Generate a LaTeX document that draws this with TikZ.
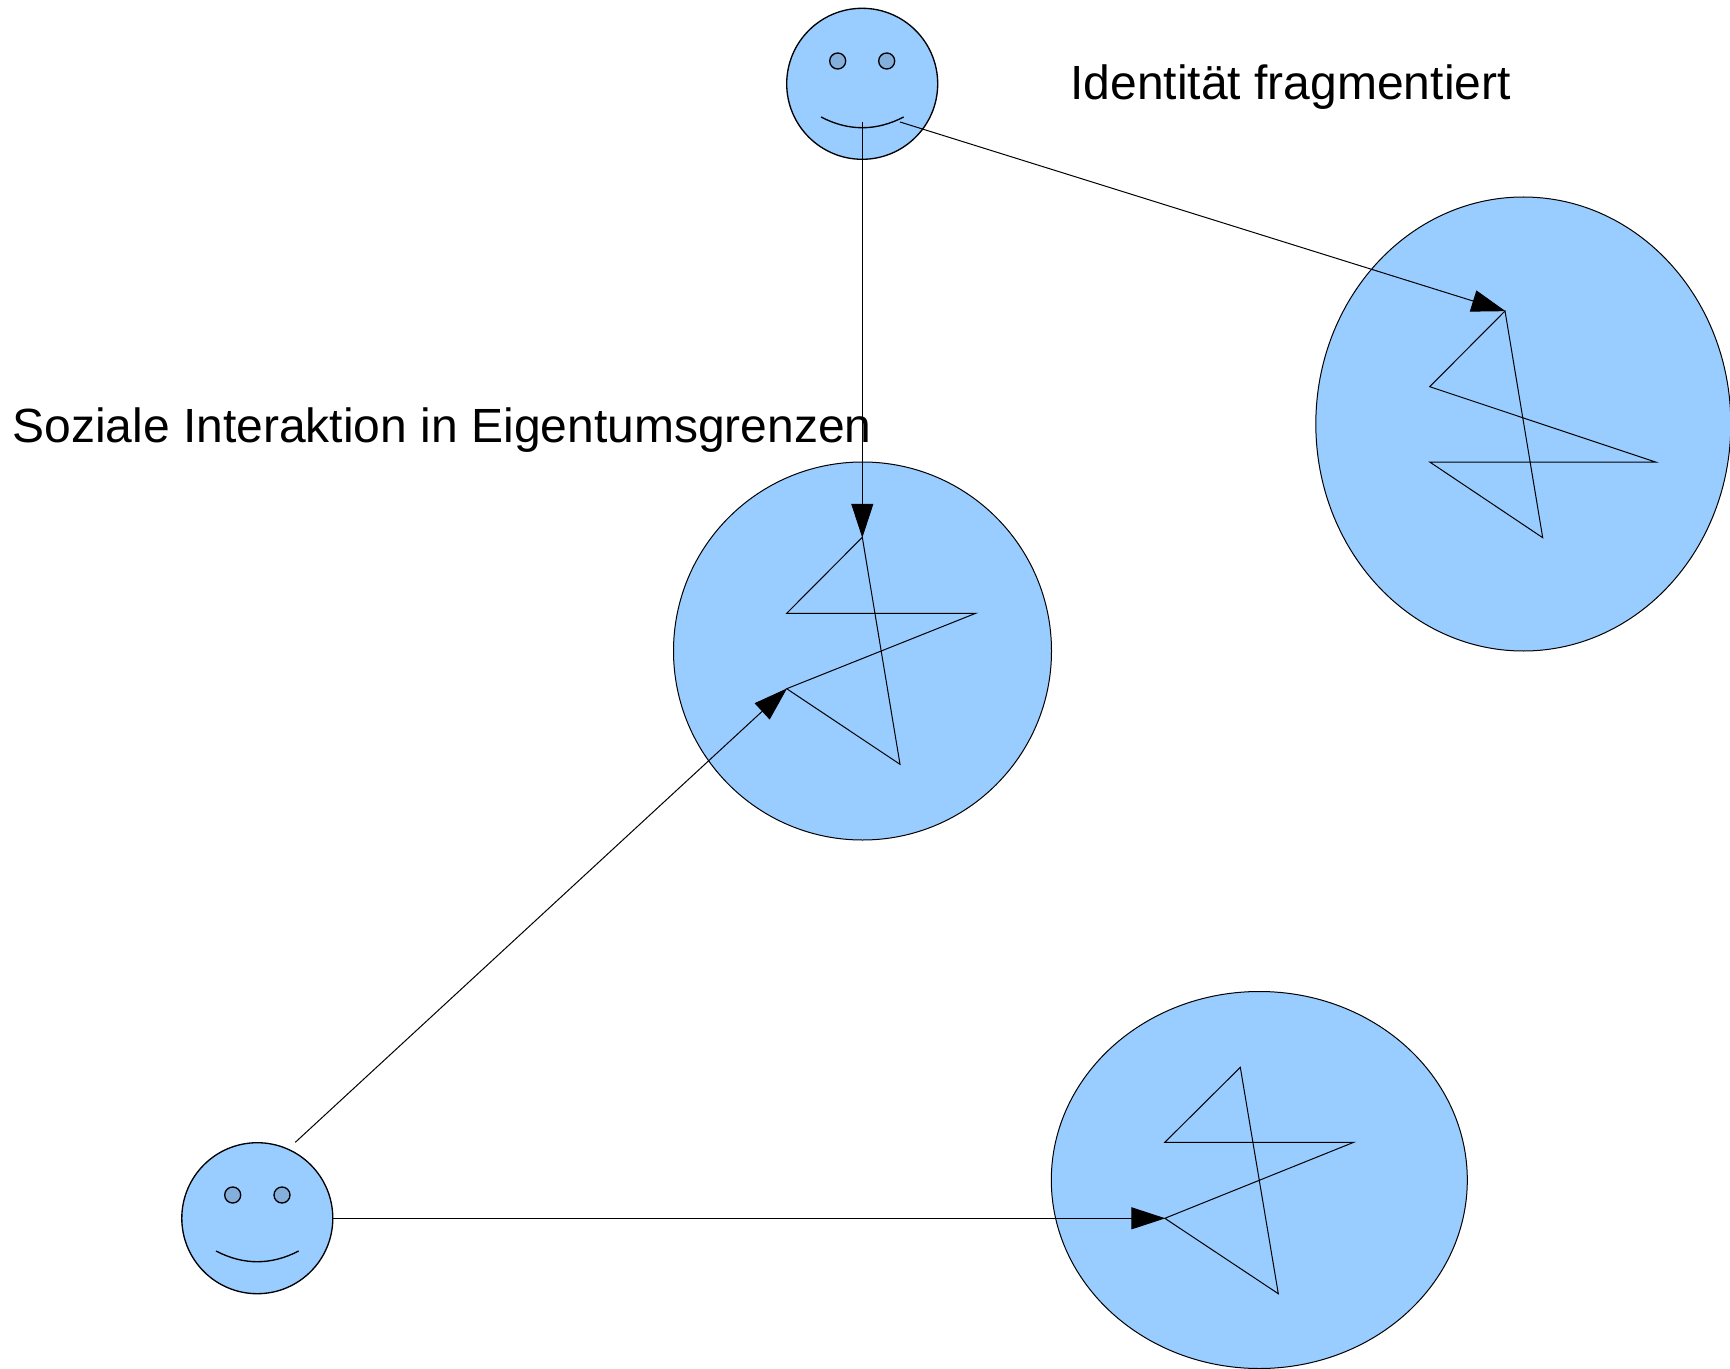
\documentclass[tikz,border=0pt]{standalone}
\usepackage{fontspec}
\setmainfont{Liberation Sans}
\usetikzlibrary{arrows.meta,shapes.geometric}

\definecolor{blobblue}{RGB}{153,204,255}
\definecolor{eyeblue}{RGB}{133,175,219}

\tikzset{every picture/.style={line width=0.75pt}}
\tikzset{
    blob/.style={ellipse,draw,fill=blobblue,inner sep=0pt,outer sep=0pt},
    head/.style={blob,line width=1pt,minimum width=113.25pt,minimum height=113.25pt},
    eye/.style={circle,draw,line width=1pt,fill=eyeblue,inner sep=0pt,outer sep=0pt,minimum size=12pt},
    mouth/.style={line width=1pt},
    caption/.style={anchor=base west,inner sep=0pt,font=\fontsize{36pt}{40pt}\selectfont},
    link/.style={-{Triangle[length=25.5pt,width=16.5pt]},shorten >=-0.4pt},
    bolt/.style={line join=miter}
}

\begin{document}
\begin{tikzpicture}[x=0.75pt,y=0.75pt,yscale=-1]
    \useasboundingbox (0,0) rectangle (1730,1369);

    %Shape: Circle and Ellipses
    \node [blob,minimum width=283.5pt,minimum height=283.5pt] (middleBlob) at (862.5,651) {};
    \node [blob,minimum width=311.25pt,minimum height=340.5pt] (rightBlob) at (1523.3,424) {};
    \node [blob,minimum width=312pt,minimum height=282.75pt] (bottomBlob) at (1259.3,1180) {};

    %Shape: Smiley top
    \node [head] (topHead) at (862.2,83.8) {};
    \node [eye] (topEyeL) at (837.7,61) {};
    \node [eye] (topEyeR) at (886.7,61) {};
    \draw [mouth] (821,117) .. controls (848.5,131.3) and (876,131.3) .. (903.7,117);

    %Shape: Smiley bottom
    \node [head] (lowHead) at (257.3,1218.2) {};
    \node [eye] (lowEyeL) at (232.7,1195) {};
    \node [eye] (lowEyeR) at (282,1195) {};
    \draw [mouth] (216,1251) .. controls (243.5,1265.3) and (271,1265.3) .. (298.7,1251);

    %Points of the bolts
    \coordinate (midA) at (862.3,537.3);
    \coordinate (midB) at (786.7,613.3);
    \coordinate (midC) at (975.7,613.3);
    \coordinate (midD) at (786.7,688.7);
    \coordinate (midE) at (900,764.3);
    \coordinate (rightA) at (1505,311);
    \coordinate (rightB) at (1429.7,386.7);
    \coordinate (rightC) at (1655.5,462);
    \coordinate (rightD) at (1429.7,462);
    \coordinate (rightE) at (1542.7,537.7);
    \coordinate (lowA) at (1240.3,1067.3);
    \coordinate (lowB) at (1164.8,1142.3);
    \coordinate (lowC) at (1353.7,1142.3);
    \coordinate (lowD) at (1164.8,1218.3);
    \coordinate (lowE) at (1278.3,1293.7);

    %Free ends of the connectors
    \coordinate (topStartA) at (862.3,122);
    \coordinate (topStartB) at (900,122);
    \coordinate (lowStartA) at (295.3,1142.3);
    \coordinate (lowStartB) at (333,1218.3);

    %Bolts
    \draw [bolt] (midA) -- (midB) -- (midC) -- (midD) -- (midE) -- cycle;
    \draw [bolt] (rightA) -- (rightB) -- (rightC) -- (rightD) -- (rightE) -- cycle;
    \draw [bolt] (lowA) -- (lowB) -- (lowC) -- (lowD) -- (lowE) -- cycle;

    %Straight Lines
    \draw [link] (topStartA) -- (midA);
    \draw [link] (topStartB) -- (rightA);
    \draw [link] (lowStartA) -- (midD);
    \draw [link] (lowStartB) -- (lowD);

    % Text Node
    \node [caption] (identityText) at (1070,100) {Identität fragmentiert};
    % Text Node
    \node [caption] (socialText) at (12,442.5) {Soziale Interaktion in Eigentumsgrenzen};

\end{tikzpicture}
\end{document}
